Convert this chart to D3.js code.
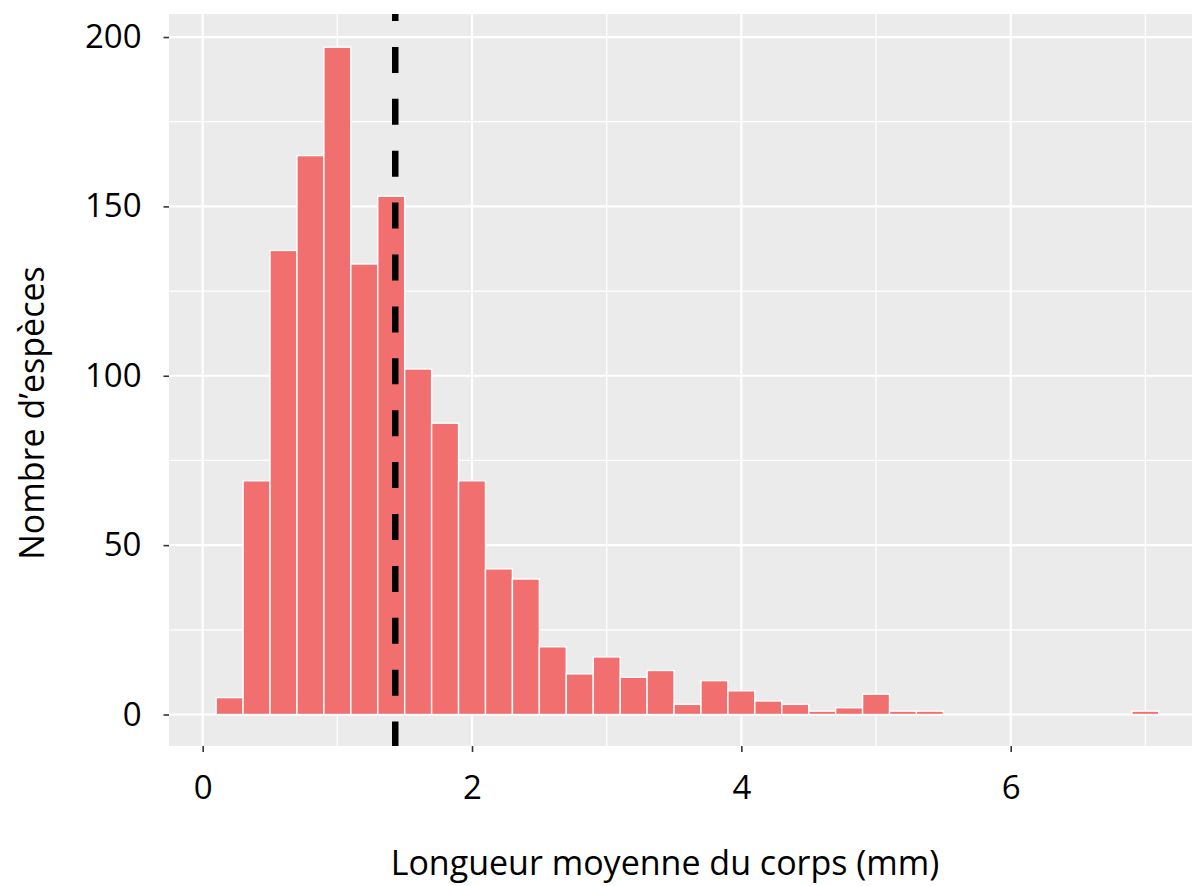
<!DOCTYPE html>
<html>
<head>
<meta charset="utf-8">
<script src="https://cdn.jsdelivr.net/npm/d3@7"></script>
<style>
  html, body { margin: 0; padding: 0; background: #fff; }
  svg { display: block; }
  .axis text { font-family: "Open Sans", sans-serif; font-size: 33px; fill: #000; }
  .axis line { stroke: #333; stroke-width: 1.6; }
  .axis-title { font-family: "Open Sans", sans-serif; font-size: 34px; fill: #000; }
</style>
</head>
<body>
<div id="chart"></div>
<script>
// Histogram of mean body length, ggplot-like grey panel.

const width = 1192;
const height = 886;

// bin centres (binwidth 0.2) and species counts
const binCenters = [0.2, 0.4, 0.6, 0.8, 1.0, 1.2, 1.4, 1.6, 1.8, 2.0,
  2.2, 2.4, 2.6, 2.8, 3.0, 3.2, 3.4, 3.6, 3.8, 4.0,
  4.2, 4.4, 4.6, 4.8, 5.0, 5.2, 5.4, 5.6, 5.8, 6.0,
  6.2, 6.4, 6.6, 6.8, 7.0];
const speciesCounts = [5, 69, 137, 165, 197, 133, 153, 102, 86, 69,
  43, 40, 20, 12, 17, 11, 13, 3, 10, 7,
  4, 3, 1, 2, 6, 1, 1, 0, 0, 0,
  0, 0, 0, 0, 1];
const binWidth = 0.2;
const meanLength = 1.43;

const xTicks = [0, 2, 4, 6];
const xMinorTicks = [1, 3, 5, 7];
const yTicks = [0, 50, 100, 150, 200];
const yMinorTicks = [25, 75, 125, 175];

const xLabel = "Longueur moyenne du corps (mm)";
const yLabel = "Nombre d\u2019esp\u00e8ces";

const panel = { left: 169, right: 1206, top: 14, bottom: 746 };

const svg = d3.select("#chart")
  .append("svg")
  .attr("width", width)
  .attr("height", height)
  .attr("viewBox", `0 0 ${width} ${height}`);

const xScale = d3.scaleLinear()
  .domain([-0.25, 7.45])
  .range([panel.left, panel.right]);

const yScale = d3.scaleLinear()
  .domain([-9.3, 206.8])
  .range([panel.bottom, panel.top]);

svg.append("clipPath")
  .attr("id", "panel-clip")
  .append("rect")
  .attr("x", panel.left)
  .attr("y", panel.top)
  .attr("width", panel.right - panel.left)
  .attr("height", panel.bottom - panel.top);

const plot = svg.append("g").attr("clip-path", "url(#panel-clip)");

plot.append("rect")
  .attr("x", panel.left)
  .attr("y", panel.top)
  .attr("width", panel.right - panel.left)
  .attr("height", panel.bottom - panel.top)
  .attr("fill", "#ebebeb");

// grid lines
plot.selectAll(".hminor")
  .data(yMinorTicks)
  .join("line")
  .attr("x1", panel.left).attr("x2", panel.right)
  .attr("y1", d => yScale(d)).attr("y2", d => yScale(d))
  .attr("stroke", "#fff").attr("stroke-width", 1.3);

plot.selectAll(".vminor")
  .data(xMinorTicks)
  .join("line")
  .attr("y1", panel.top).attr("y2", panel.bottom)
  .attr("x1", d => xScale(d)).attr("x2", d => xScale(d))
  .attr("stroke", "#fff").attr("stroke-width", 1.3);

plot.selectAll(".hmajor")
  .data(yTicks)
  .join("line")
  .attr("x1", panel.left).attr("x2", panel.right)
  .attr("y1", d => yScale(d)).attr("y2", d => yScale(d))
  .attr("stroke", "#fff").attr("stroke-width", 2.2);

plot.selectAll(".vmajor")
  .data(xTicks)
  .join("line")
  .attr("y1", panel.top).attr("y2", panel.bottom)
  .attr("x1", d => xScale(d)).attr("x2", d => xScale(d))
  .attr("stroke", "#fff").attr("stroke-width", 2.2);

// bars
const bins = binCenters.map((c, i) => ({ center: c, count: speciesCounts[i] }))
  .filter(d => d.count > 0);

plot.selectAll(".bar")
  .data(bins)
  .join("rect")
  .attr("class", "bar")
  .attr("x", d => xScale(d.center - binWidth / 2))
  .attr("width", d => xScale(d.center + binWidth / 2) - xScale(d.center - binWidth / 2))
  .attr("y", d => yScale(d.count))
  .attr("height", d => yScale(0) - yScale(d.count))
  .attr("fill", "#f26f6f")
  .attr("stroke", "#fff")
  .attr("stroke-width", 1.4);

// mean line
plot.append("line")
  .attr("x1", xScale(meanLength)).attr("x2", xScale(meanLength))
  .attr("y1", panel.top).attr("y2", panel.bottom)
  .attr("stroke", "#000")
  .attr("stroke-width", 6.5)
  .attr("stroke-dasharray", "26,25.9")
  .attr("stroke-dashoffset", 19);

// axes
svg.append("g")
  .attr("class", "axis")
  .attr("transform", `translate(${panel.left},0)`)
  .call(d3.axisLeft(yScale).tickValues(yTicks).tickSize(5.5).tickPadding(22));

svg.append("g")
  .attr("class", "axis")
  .attr("transform", `translate(0,${panel.bottom})`)
  .call(d3.axisBottom(xScale).tickValues(xTicks).tickSize(6).tickPadding(24));

svg.selectAll(".axis .domain").remove();

svg.append("text")
  .attr("class", "axis-title")
  .attr("x", 665)
  .attr("y", 875)
  .attr("text-anchor", "middle")
  .text(xLabel);

svg.append("text")
  .attr("class", "axis-title")
  .attr("transform", "rotate(-90)")
  .attr("x", -413)
  .attr("y", 44)
  .attr("text-anchor", "middle")
  .text(yLabel);
</script>
</body>
</html>
